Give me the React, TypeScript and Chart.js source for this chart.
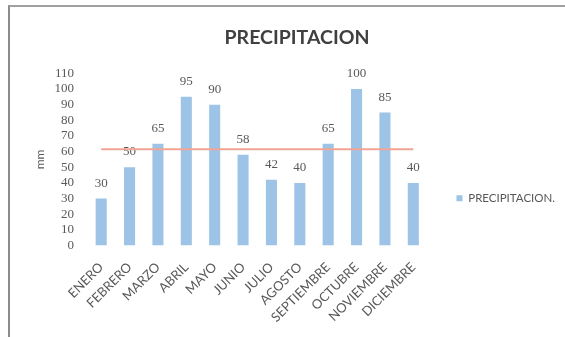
import React, { useEffect, useRef } from 'react';
import { Chart, registerables } from 'chart.js';

Chart.register(...registerables);

const MONTHS = ['ENERO', 'FEBRERO', 'MARZO', 'ABRIL', 'MAYO', 'JUNIO', 'JULIO', 'AGOSTO', 'SEPTIEMBRE', 'OCTUBRE', 'NOVIEMBRE', 'DICIEMBRE'];
const PRECIP = [30, 50, 65, 95, 90, 58, 42, 40, 65, 100, 85, 40];
const REF_LINE = [61.5, 61.5, 61.5, 61.5, 61.5, 61.5, 61.5, 61.5, 61.5, 61.5, 61.5, 61.5];
const Y_MIN = 0;
const Y_MAX = 110;
const Y_STEP = 10;
const TITLE = 'PRECIPITACION';
const SERIES_NAME = 'PRECIPITACION.';
const Y_TITLE = 'mm';

const GRAY = '#595959';
const BAR_COLOR = '#9DC3E6';
const LINE_COLOR = '#F2A595';

const valueLabels = {
  id: 'valueLabels',
  afterDatasetDraw(chart: any, args: any) {
    if (args.index !== 0) return;
    const meta = chart.getDatasetMeta(0);
    const ctx = chart.ctx;
    ctx.save();
    ctx.font = '13px "Liberation Serif"';
    ctx.fillStyle = GRAY;
    ctx.textAlign = 'center';
    ctx.textBaseline = 'alphabetic';
    meta.data.forEach((el: any, i: number) => {
      ctx.fillText(String(PRECIP[i]), el.x, el.y - 12);
    });
    ctx.restore();
  },
};

export default function App() {
  const ref = useRef<HTMLCanvasElement>(null);
  useEffect(() => {
    if (!ref.current) return;
    const chart = new Chart(ref.current, {
      type: 'bar',
      data: {
        labels: MONTHS,
        datasets: [
          {
            type: 'bar',
            label: SERIES_NAME,
            data: PRECIP,
            backgroundColor: BAR_COLOR,
            borderWidth: 0,
            categoryPercentage: 1,
            barPercentage: 0.39,
            order: 2,
          } as any,
          {
            type: 'line',
            label: 'ref',
            data: REF_LINE,
            borderColor: LINE_COLOR,
            borderWidth: 2,
            pointRadius: 0,
            fill: false,
            order: 1,
          } as any,
        ],
      },
      options: {
        animation: false,
        responsive: false,
        layout: { padding: { left: 19, right: 0, top: 0, bottom: 0 } },
        plugins: {
          title: {
            display: true,
            fullSize: true,
            text: TITLE,
            color: '#404040',
            font: { family: 'Lato', size: 19.5, weight: 'bold' },
            padding: { top: 19, bottom: 24 },
          },
          legend: {
            position: 'right',
            maxWidth: 200,
            title: {
              display: true,
              text: '',
              font: { family: 'Lato', size: 12 },
              padding: { top: 38, bottom: 0 },
            },
            labels: {
              boxWidth: 6,
              boxHeight: 6,
              padding: 10,
              color: GRAY,
              font: { family: 'Lato', size: 11.5 },
              filter: (item: any) => item.datasetIndex === 0,
            },
          },
          tooltip: { enabled: false },
        },
        scales: {
          x: {
            grid: { display: false, drawTicks: false },
            border: { display: false },
            ticks: {
              color: GRAY,
              font: { family: 'Lato', size: 13 },
              minRotation: 45,
              maxRotation: 45,
              autoSkip: false,
              padding: 14,
            },
            afterFit: (axis: any) => {
              axis.height = 91.5;
            },
          },
          y: {
            min: Y_MIN,
            max: Y_MAX,
            grid: { display: false, drawTicks: false },
            border: { display: false },
            ticks: {
              stepSize: Y_STEP,
              autoSkip: false,
              color: GRAY,
              font: { family: 'Liberation Serif', size: 13 },
              padding: 13,
            },
            title: {
              display: true,
              text: Y_TITLE,
              color: GRAY,
              font: { family: 'Lato', size: 12 },
            },
            afterFit: (axis: any) => {
              axis.width = 58;
            },
          },
          yRight: {
            position: 'right',
            display: true,
            grid: { display: false, drawTicks: false },
            border: { display: false },
            ticks: { display: false },
            afterFit: (axis: any) => {
              axis.width = 19;
            },
          },
        },
      } as any,
      plugins: [valueLabels],
    });
    return () => chart.destroy();
  }, []);

  return (
    <div
      style={{
        position: 'absolute',
        left: 8,
        top: 5,
        width: 557,
        height: 332,
        boxSizing: 'border-box',
        borderLeft: '2px solid #8c8c8c',
        borderTop: '2px solid #a0a0a0',
        background: '#fff',
      }}
    >
      <canvas ref={ref} width={555} height={330} style={{ display: 'block' }} />
    </div>
  );
}
